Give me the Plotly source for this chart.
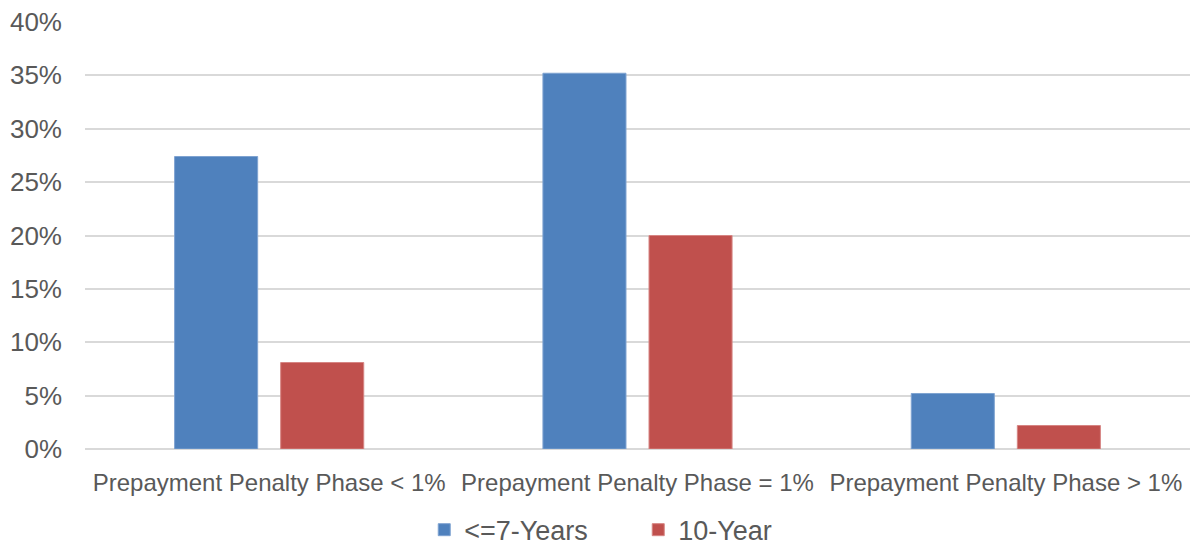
import plotly.graph_objects as go

# Share of loans by prepayment penalty phase, per loan term
categories = [
    "Prepayment Penalty Phase < 1%",
    "Prepayment Penalty Phase = 1%",
    "Prepayment Penalty Phase > 1%",
]
series_names = ["<=7-Years", "10-Year"]
short_term = [27.4, 35.2, 5.2]
ten_year = [8.1, 20.0, 2.2]
y_ticks = [0, 5, 10, 15, 20, 25, 30, 35, 40]
y_tick_labels = [f"{v}%" for v in y_ticks]

FONT = "Liberation Sans, Arial, sans-serif"
TEXT = "#595959"

fig = go.Figure()
fig.add_trace(go.Bar(
    x=categories, y=short_term, name=series_names[0],
    marker=dict(color="#4F81BD", line=dict(color="#7FA3D1", width=1)),
))
fig.add_trace(go.Bar(
    x=categories, y=ten_year, name=series_names[1],
    marker=dict(color="#C0504D", line=dict(color="#D68583", width=1)),
))

fig.update_layout(
    width=1190, height=544,
    margin=dict(l=85, r=0, t=22, b=95, autoexpand=False),
    paper_bgcolor="white", plot_bgcolor="white",
    barmode="group", bargap=0.424, bargroupgap=0.217,
    font=dict(family=FONT, size=24, color=TEXT),
    showlegend=True,
    legend=dict(
        orientation="h", x=0.307, xanchor="left", y=-0.19, yanchor="middle",
        font=dict(family=FONT, size=27, color=TEXT),
        entrywidth=169, itemwidth=30,
    ),
    xaxis=dict(
        showgrid=False, showline=False, zeroline=False,
        tickfont=dict(family=FONT, size=24, color=TEXT),
        ticklabelstandoff=17,
    ),
    yaxis=dict(
        range=[0, 40], tickvals=y_ticks, ticktext=y_tick_labels,
        showgrid=True, gridcolor="#D9D9D9", gridwidth=1.5,
        zeroline=True, zerolinecolor="#D9D9D9", zerolinewidth=1.5,
        showline=False,
        tickfont=dict(family=FONT, size=26, color=TEXT),
        ticklabelstandoff=22,
    ),
)

fig.write_html("out.html")
